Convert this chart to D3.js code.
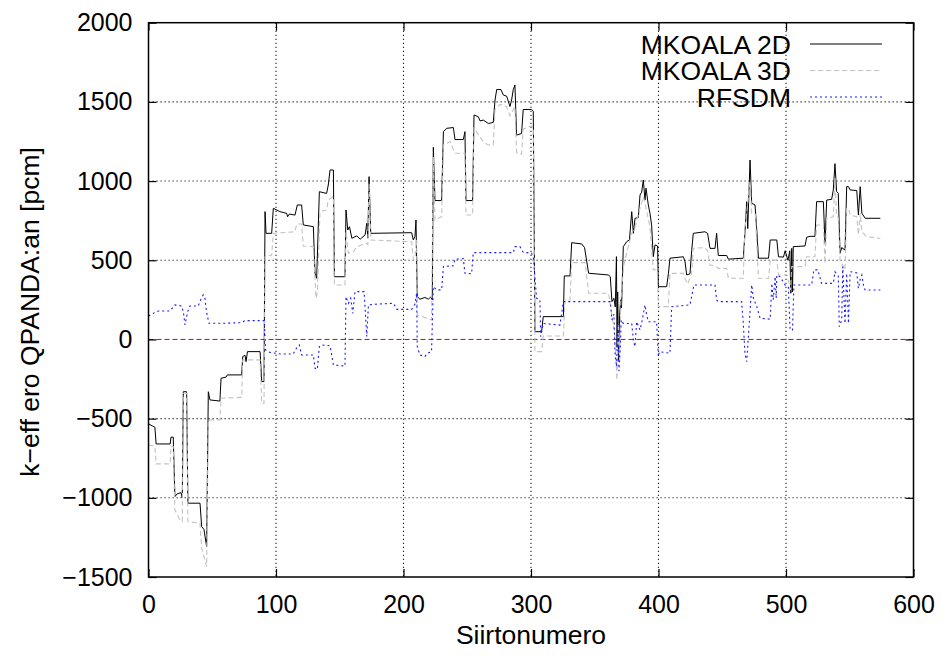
<!DOCTYPE html>
<html lang="en">
<head>
<meta charset="utf-8">
<title>k-eff ero</title>
<script src="https://cdn.jsdelivr.net/npm/d3@7"></script>
<style>
  body { margin: 0; background: #fff; }
  svg { display: block; font-family: "Liberation Sans", Arial, Helvetica, sans-serif; }
</style>
</head>
<body>
<script>
// values, [siirtonumero, pcm]
var mkoala2d = [[0,-533],[3,-546],[5,-554],[6,-660],[17,-660],[17.6,-617],[19.4,-617],[20.7,-992],[22.5,-975],[25.5,-967],[26.5,-1000],
  [27.3,-330],[29.9,-330],[30.9,-1034],[40.4,-1034],[41.7,-1181],[43.5,-1200],[45.6,-1308],[46.9,-330],[48.2,-382],[56,-389],
  [56.9,-245],[60.8,-238],[61.8,-224],[73.1,-224],[73.9,-108],[75.7,-100],[76.5,-140],[77.6,-77],[87.5,-77],[88.8,-266],[90.6,-266],
  [91.4,807],[92.2,670],[96.6,670],[97.9,828],[103.1,807],[108.4,796],[109.1,775],[110.5,792],[114.9,785],[116.7,849],[120.1,849],
  [121.4,723],[129.3,712],[130.6,418],[131.9,386],[134,933],[139.7,922],[141,975],[142.4,1070],[145,1070],[145.8,396],[154.1,396],
  [154.9,817],[156.3,691],[157.6,712],[159.5,639],[163.4,654],[166,633],[169.9,660],[171.2,733],[172,640],[173,1028],[174.3,670],
  [206.4,674],[207.7,628],[209,650],[209.8,754],[210.8,270],[212.9,254],[216.8,265],[219.5,254],[221.3,268],[222.6,250],[223.4,1213],
  [224.7,877],[229.9,877],[231.3,1312],[233.8,1333],[239.1,1338],[240.4,1262],[246.9,1262],[248.2,1312],[249,877],[254.2,877],
  [255.3,1417],[258.7,1406],[260,1380],[262.6,1385],[266.5,1364],[270.4,1370],[271.8,1512],[273.1,1578],[276.4,1578],[278.3,1543],
  [280.9,1536],[283.5,1471],[284.8,1512],[286.1,1578],[287.4,1607],[288.7,1290],[292.6,1300],[293.9,1452],[300.4,1452],[301.8,1440],
  [303.1,49],[308.3,49],[309.6,144],[325.4,144],[326.1,401],[330.6,401],[331.9,611],[339.8,603],[342,580],[345.2,418],[360.9,407],
  [362.2,395],[363.5,239],[365,260],[366.1,205],[367,523],[367.5,-50],[368,300],[368.7,-129],[369.5,150],[370.3,250],[371,200],
  [372.4,586],[375.1,618],[377.2,628],[379,807],[380.3,670],[381.6,765],[384.2,770],[385.5,912],[386.8,930],[388.1,1007],[389.4,880],
  [390.2,955],[392,849],[393.3,797],[394.6,723],[395.9,523],[397.3,597],[399.3,590],[399.9,333],[406.4,333],[407.8,418],[409,513],
  [419.5,522],[420.8,491],[422.1,407],[424.7,415],[426,560],[427.3,670],[436.4,680],[438.5,670],[440.4,575],[444.3,575],[445.6,670],
  [446.9,530],[453.5,530],[454.8,507],[466.5,513],[467.8,670],[469.2,870],[470,700],[471.8,1133],[473.1,860],[475.7,849],[477,700],
  [478.4,513],[486.3,513],[487.6,628],[492.8,628],[494.1,522],[498,520],[499.3,560],[501.5,500],[503,560],[503.8,292],[504.5,575],
  [505.1,300],[505.7,586],[514.9,590],[516.2,645],[518.8,651],[522.7,651],[524,870],[529.3,870],[530.6,607],[531.9,880],[535.8,885],
  [537.1,944],[538.4,1110],[539.7,934],[541,923],[542.4,544],[543.7,580],[546.3,564],[547.6,965],[549,965],[550.3,944],[555.5,940],
  [556.8,786],[558.2,965],[559.5,797],[562.1,765],[574,765]];

var mkoala3d = [[0,-666],[5,-674],[6,-786],[17,-786],[17.6,-674],[19.4,-674],[20.7,-1076],[24.6,-1139],[26.5,-1150],[27.3,-340],
  [29.9,-340],[30.9,-1150],[40.4,-1160],[41.7,-1318],[45.6,-1434],[46.9,-508],[56,-508],[56.9,-371],[73.1,-366],[73.9,-129],
  [87.5,-129],[88.8,-403],[90.6,-403],[91.4,523],[96.6,533],[97.9,670],[114.9,680],[116.2,729],[120.1,729],[121.4,590],[129.3,586],
  [131.4,260],[132.5,300],[134.5,807],[139.7,817],[141,881],[145,902],[145.8,344],[154.1,344],[154.9,680],[156.8,544],[160.7,554],
  [163.4,586],[170.6,607],[172,600],[173,986],[174.3,628],[206.4,617],[207.7,502],[209,520],[210.3,628],[210.8,155],[222,123],
  [223.4,1154],[224.7,754],[229.9,775],[231.3,1228],[236.5,1249],[240.4,1176],[248.2,1176],[249,786],[254.2,786],[255.3,1333],
  [262.6,1249],[266.5,1228],[270.4,1228],[271.8,1452],[275.7,1484],[280.9,1470],[283.5,1412],[287.4,1470],[288.7,1180],[292.6,1170],
  [293.9,1328],[300.4,1349],[301.8,1340],[303.1,-77],[308.3,-77],[309.6,22],[325.4,22],[326.7,249],[330.6,249],[331.9,485],
  [342.4,485],[345.2,292],[360.9,292],[363.5,144],[365.5,50],[367.4,-256],[368.5,100],[369.5,-150],[370.5,250],[372.7,465],
  [375,544],[379,670],[381.6,712],[385.5,828],[388.1,902],[390,838],[393.3,712],[395.9,439],[399,440],[399.9,207],[407.7,207],
  [409,417],[419.5,417],[421,380],[423,350],[426,420],[427.3,575],[436.4,580],[438.5,560],[440.4,470],[444.3,465],[446.9,449],
  [453.5,449],[454.8,386],[466.5,386],[467.8,700],[469.2,800],[471.8,996],[473.1,796],[476,790],[478.4,386],[486.3,386],[487.6,501],
  [492.8,501],[494.1,407],[501,407],[503.5,312],[504.5,460],[514.9,460],[516.2,522],[522.7,522],[524,723],[529.3,723],[530.6,480],
  [531.9,765],[537.1,775],[538.4,1017],[539.7,780],[541,770],[542.4,501],[546.3,439],[547.6,828],[549,828],[550.3,786],[555.5,775],
  [556.8,660],[558.2,797],[559.5,680],[563.4,649],[574,638]];

var rfsdm = [[0,148],[5.4,172],[7.8,180],[16.9,180],[20.8,218],[26,211],[27.3,175],[28.6,92],[30.7,175],[32.5,211],[39,211],
  [41.1,254],[42.9,281],[44.2,265],[45.5,175],[47.4,102],[59.9,102],[73,106],[75.6,119],[90.8,119],[91.8,-66],[94.4,-80],
  [103.1,-92],[113.5,-92],[116.7,-45],[118.3,-35],[120.1,-98],[129.3,-98],[130.6,-182],[132.4,-189],[134,-45],[135.8,-35],
  [142.4,-40],[145,-161],[154.1,-168],[154.9,270],[156.8,228],[158.6,260],[160.2,165],[162,302],[169.1,302],[171.2,18],[172.5,218],
  [179.1,223],[192.2,228],[194.8,190],[206.4,190],[209,223],[210.3,292],[210.8,-45],[212.9,-98],[216.8,-108],[218.2,-90],[222,-77],
  [223.4,333],[226,313],[229.9,313],[231.3,460],[239.1,465],[240.4,506],[246.9,510],[248.2,418],[253.4,415],[254.7,548],[286.1,548],
  [287.4,586],[291.3,586],[293.9,550],[300.4,545],[301.8,522],[304.4,260],[307,250],[307.6,18],[309.6,101],[322.7,91],[325.4,239],
  [362.2,239],[363.5,123],[365,160],[366,-100],[367.2,-172],[368,120],[369,-200],[370,-50],[370.8,123],[372.4,101],[379,101],
  [380.3,-3],[381.5,-45],[382.9,112],[385.5,60],[387,112],[389.4,218],[390.5,165],[392,112],[398.5,112],[399.9,-108],[400.7,-77],
  [409,-87],[410.3,207],[424.7,218],[427.8,344],[444.3,344],[445.6,249],[446.9,239],[465.2,239],[466.5,102],[467.8,-87],[469.2,-140],
  [470.5,18],[473.1,344],[474.4,260],[477.1,207],[479.7,134],[487.6,128],[488.9,354],[490,250],[491.5,396],[492.3,260],[492.8,407],
  [495.3,396],[499.3,344],[501.8,333],[503.2,60],[505.1,60],[506.2,344],[520.1,344],[521.9,439],[525,439],[527.9,354],[537.1,354],
  [538.4,428],[541,400],[541.8,81],[543.7,123],[544.5,460],[546.3,102],[547.6,417],[549,102],[550.3,428],[555.5,420],[556.8,322],
  [558.2,380],[559.5,407],[561,330],[562.1,312],[574,312]];

var xTicks = [0, 100, 200, 300, 400, 500, 600];
var yTicks = [-1500, -1000, -500, 0, 500, 1000, 1500, 2000];
var seriesNames = ["MKOALA 2D", "MKOALA 3D", "RFSDM"];

var w = 942, h = 657;
// plot box (window.top is read-only, so own names)
var pLeft = 148.5, pRight = 913.5, pTop = 22.7, pBottom = 577;
var fs = 25, fsTitle = 26.5;

var x = d3.scaleLinear().domain([0, 600]).range([pLeft, pRight]);
var y = d3.scaleLinear().domain([-1500, 2000]).range([pBottom, pTop]);

var svg = d3.select("body").append("svg")
  .attr("width", w)
  .attr("height", h);

// grid
svg.append("g").selectAll("line")
  .data(xTicks.slice(1, -1))
  .enter().append("line")
  .attr("x1", function(d) { return x(d); })
  .attr("x2", function(d) { return x(d); })
  .attr("y1", pTop).attr("y2", pBottom)
  .attr("stroke", "#222").attr("stroke-width", 1.1)
  .attr("stroke-dasharray", "1.2,2.8");

svg.append("g").selectAll("line")
  .data(yTicks.slice(1, -1).filter(function(d) { return d !== 0; }))
  .enter().append("line")
  .attr("y1", function(d) { return y(d); })
  .attr("y2", function(d) { return y(d); })
  .attr("x1", pLeft).attr("x2", pRight)
  .attr("stroke", "#222").attr("stroke-width", 1.1)
  .attr("stroke-dasharray", "1.2,2.8");

// zero axis
svg.append("line")
  .attr("x1", pLeft).attr("x2", pRight)
  .attr("y1", y(0)).attr("y2", y(0))
  .attr("stroke", "#e00000").attr("stroke-width", 1)
  .attr("stroke-dasharray", "5,3");

// axes
svg.append("g")
  .attr("transform", "translate(0," + pBottom + ")")
  .call(d3.axisBottom(x).tickValues(xTicks).tickFormat(d3.format("d"))
    .tickSizeInner(-8).tickSizeOuter(0).tickPadding(18));
svg.append("g")
  .attr("transform", "translate(" + pLeft + ",0)")
  .call(d3.axisLeft(y).tickValues(yTicks).tickFormat(d3.format("d"))
    .tickSizeInner(-8).tickSizeOuter(0).tickPadding(16));
svg.append("g")
  .attr("transform", "translate(0," + pTop + ")")
  .call(d3.axisTop(x).tickValues(xTicks).tickSizeInner(-8).tickSizeOuter(0).tickFormat(""));
svg.append("g")
  .attr("transform", "translate(" + pRight + ",0)")
  .call(d3.axisRight(y).tickValues(yTicks).tickSizeInner(-8).tickSizeOuter(0).tickFormat(""));

svg.selectAll(".domain").remove();
svg.selectAll(".tick line").attr("stroke", "#000").attr("stroke-width", 1.2);
svg.selectAll(".tick text")
  .attr("font-size", fs)
  .attr("font-family", "Liberation Sans, Arial, sans-serif")
  .attr("fill", "#000");

// data lines
var line = d3.line()
  .x(function(d) { return x(d[0]); })
  .y(function(d) { return y(d[1]); });

var styles = [
  { data: mkoala2d, color: "#000", dash: null, width: 1 },
  { data: mkoala3d, color: "#c2c2c2", dash: "5,3", width: 1.1 },
  { data: rfsdm, color: "#1a1aff", dash: "2,3", width: 1.1 }
];

var plot = svg.append("g");
styles.forEach(function(s) {
  plot.append("path")
    .datum(s.data)
    .attr("d", line)
    .attr("fill", "none")
    .attr("stroke", s.color)
    .attr("stroke-width", s.width)
    .attr("stroke-dasharray", s.dash);
});

// border
svg.append("rect")
  .attr("x", pLeft).attr("y", pTop)
  .attr("width", pRight - pLeft).attr("height", pBottom - pTop)
  .attr("fill", "none")
  .attr("stroke", "#000").attr("stroke-width", 1.5);

// legend
var legend = svg.append("g");
styles.forEach(function(s, i) {
  var ly = 44 + i * 26.5;
  legend.append("text")
    .attr("x", 791)
    .attr("y", ly + 9.5)
    .attr("text-anchor", "end")
    .attr("font-size", fsTitle)
    .text(seriesNames[i]);
  legend.append("line")
    .attr("x1", 810).attr("x2", 882)
    .attr("y1", ly).attr("y2", ly)
    .attr("stroke", s.color)
    .attr("stroke-width", s.width)
    .attr("stroke-dasharray", s.dash);
});

// axis titles
svg.append("text")
  .attr("x", (pLeft + pRight) / 2)
  .attr("y", 644)
  .attr("text-anchor", "middle")
  .attr("font-size", fsTitle)
  .text("Siirtonumero");

svg.append("text")
  .attr("transform", "translate(39,312) rotate(-90)")
  .attr("text-anchor", "middle")
  .attr("font-size", fsTitle)
  .text("k\u2212eff ero QPANDA:an [pcm]");
</script>
</body>
</html>
